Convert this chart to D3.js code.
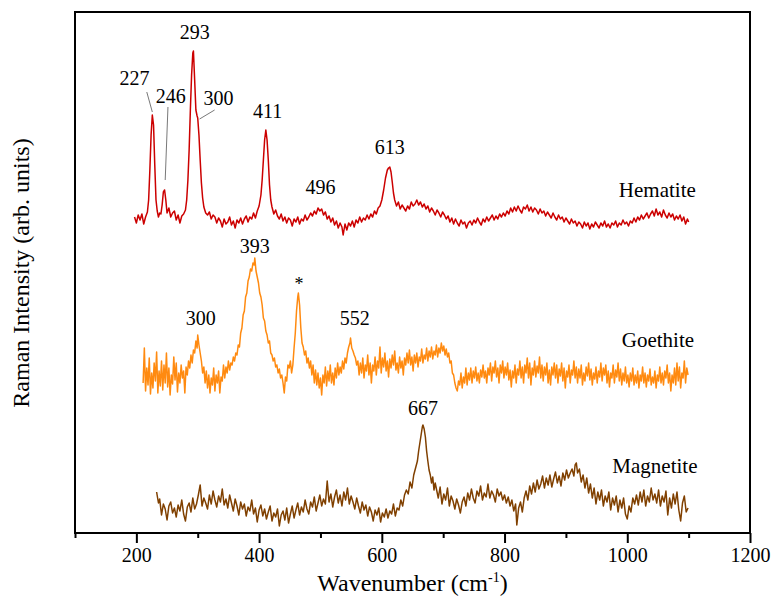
<!DOCTYPE html>
<html>
<head>
<meta charset="utf-8">
<script src="https://cdn.jsdelivr.net/npm/d3@7.9.0/dist/d3.min.js"></script>
<style>
  body { margin: 0; background: #fff; }
</style>
</head>
<body>
<svg id="chart" width="774" height="601"></svg>
<script>
// Raman spectra, [wavenumber (cm-1), intensity (arb. units, stacked offset included)]
const hematite = [[197,316],[200,310],[203,318],[206,313],[209,319],[212,309],[215,316],[218,321],[220,333],[222,363],[224,398],[226,418],[228,408],[230,368],[232,333],[234,322],[236,316],[238,320],[240,319],[242,328],[244,341],[246,343],[248,333],[250,320],[253,325],[256,316],[259,320],[262,322],[265,313],[268,318],[271,310],[274,317],[277,319],[280,323],[282,333],[284,353],[286,383],[288,423],[290,458],[292,480],[293,482],[295,453],[297,423],[299,417],[300,415],[302,398],[304,373],[306,350],[308,335],[310,326],[313,320],[316,318],[319,321],[322,314],[325,318],[328,316],[331,310],[334,315],[337,312],[340,306],[343,314],[346,309],[349,311],[352,316],[355,308],[358,312],[361,305],[364,313],[367,310],[370,315],[373,309],[376,314],[379,317],[382,311],[385,316],[388,314],[391,320],[394,315],[397,322],[400,327],[403,338],[405,353],[407,373],[409,393],[411,403],[413,393],[415,373],[417,348],[419,333],[421,326],[424,319],[427,323],[430,317],[433,314],[436,319],[439,312],[442,316],[445,310],[448,315],[451,313],[454,307],[457,314],[460,311],[463,316],[466,309],[469,314],[472,312],[475,318],[478,313],[481,316],[484,320],[487,317],[490,322],[493,319],[496,325],[499,322],[502,324],[505,318],[508,321],[511,314],[514,317],[517,311],[520,315],[523,308],[526,312],[529,305],[532,310],[535,306],[537,298],[540,309],[543,303],[546,310],[549,307],[552,312],[555,306],[558,313],[561,310],[564,316],[567,311],[570,315],[573,313],[576,318],[579,314],[582,319],[585,316],[588,322],[591,319],[594,325],[597,327],[600,333],[603,343],[606,355],[609,363],[611,365],[613,366],[615,361],[617,351],[619,340],[621,333],[624,327],[627,331],[630,324],[633,328],[636,325],[639,322],[642,327],[645,324],[648,331],[651,327],[654,329],[657,333],[660,328],[663,331],[666,326],[669,329],[672,324],[675,327],[678,321],[681,325],[684,322],[687,318],[690,323],[693,320],[696,316],[699,321],[702,318],[705,314],[708,317],[711,311],[714,315],[717,309],[720,314],[723,310],[726,307],[729,313],[732,309],[735,311],[738,305],[741,310],[744,312],[747,308],[750,313],[753,310],[756,315],[759,311],[762,308],[765,314],[768,311],[771,316],[774,312],[777,315],[780,318],[783,313],[786,317],[789,314],[792,319],[795,316],[798,320],[801,317],[804,322],[807,319],[810,325],[813,321],[816,326],[819,322],[822,327],[825,323],[828,320],[831,326],[834,324],[837,328],[840,322],[843,326],[846,321],[849,325],[852,323],[855,319],[858,324],[861,320],[864,322],[867,317],[870,321],[873,318],[876,315],[879,320],[882,316],[885,313],[888,318],[891,314],[894,316],[897,311],[900,315],[903,312],[906,309],[909,314],[912,310],[915,312],[918,307],[921,311],[924,309],[927,305],[930,311],[933,307],[936,310],[939,304],[942,309],[945,306],[948,311],[951,308],[954,305],[957,310],[960,307],[963,312],[966,306],[969,309],[972,305],[975,310],[978,308],[981,312],[984,306],[987,310],[990,308],[993,313],[996,309],[999,311],[1002,307],[1005,312],[1008,310],[1011,315],[1014,311],[1017,316],[1020,313],[1023,318],[1026,314],[1029,317],[1032,320],[1035,315],[1038,319],[1041,322],[1044,317],[1047,324],[1050,318],[1053,321],[1056,316],[1059,323],[1062,318],[1065,315],[1068,320],[1071,316],[1074,319],[1077,313],[1080,317],[1083,314],[1086,318],[1089,312],[1092,316],[1095,309],[1098,314],[1100,311]];

const goethite = [[211,150],[213,185],[215,142],[217,165],[219,148],[221,175],[223,139],[225,160],[227,145],[229,170],[231,152],[233,181],[235,140],[237,162],[239,147],[241,172],[243,143],[245,168],[247,150],[249,180],[251,146],[253,165],[255,138],[257,158],[259,149],[261,176],[263,153],[265,170],[267,141],[269,160],[271,150],[273,168],[275,155],[277,162],[279,140],[281,166],[283,158],[285,172],[287,165],[289,178],[291,170],[293,183],[295,180],[297,192],[299,185],[300,198],[302,188],[304,180],[306,172],[308,160],[310,166],[312,150],[314,162],[316,145],[318,158],[320,140],[322,155],[324,148],[326,165],[328,142],[330,158],[332,150],[334,162],[336,140],[338,156],[340,152],[342,168],[344,155],[346,166],[348,160],[350,172],[352,163],[354,170],[356,168],[358,176],[360,172],[362,180],[364,178],[366,188],[368,186],[370,200],[372,205],[374,218],[376,222],[378,236],[380,240],[382,252],[384,256],[386,264],[388,262],[390,270],[392,268],[393,275],[395,262],[397,256],[399,250],[401,240],[403,236],[405,228],[407,215],[409,212],[411,202],[413,198],[415,190],[417,192],[419,180],[421,178],[423,172],[425,175],[427,166],[429,168],[431,160],[433,164],[435,155],[437,158],[439,150],[441,140],[443,156],[445,152],[447,168],[449,165],[451,172],[453,160],[455,168],[457,185],[459,200],[461,222],[463,236],[464,240],[466,228],[468,205],[470,190],[472,186],[474,178],[476,182],[478,170],[480,175],[482,165],[484,172],[486,158],[488,168],[490,150],[492,163],[494,148],[496,160],[498,145],[500,155],[502,138],[504,158],[506,150],[508,166],[510,147],[512,162],[514,152],[516,168],[518,150],[520,160],[522,148],[524,165],[526,155],[528,170],[530,158],[532,166],[534,160],[536,172],[538,164],[540,175],[542,170],[544,180],[546,186],[548,190],[549,195],[551,185],[553,182],[555,178],[557,175],[559,168],[561,172],[563,158],[565,170],[567,160],[569,175],[571,155],[573,168],[575,162],[577,178],[579,158],[581,170],[583,150],[585,168],[587,162],[589,176],[591,158],[593,172],[595,165],[597,186],[599,160],[601,175],[603,166],[605,180],[607,162],[609,172],[611,156],[613,174],[615,165],[617,178],[619,168],[621,182],[623,163],[625,170],[627,160],[629,176],[631,165],[633,172],[635,158],[637,175],[639,168],[641,180],[643,170],[645,183],[647,168],[649,176],[651,162],[653,178],[655,170],[657,180],[659,166],[661,176],[663,172],[665,184],[667,170],[669,178],[671,174],[673,185],[675,172],[677,182],[679,176],[681,186],[683,174],[685,182],[687,178],[689,188],[691,176],[693,185],[695,180],[697,190],[699,182],[701,187],[703,178],[705,184],[707,176],[709,180],[711,170],[713,172],[715,160],[717,158],[719,150],[721,145],[723,142],[725,152],[727,148],[729,160],[731,145],[733,156],[735,150],[737,165],[739,148],[741,160],[743,153],[745,165],[747,150],[749,162],[751,155],[753,166],[755,152],[757,160],[759,150],[761,163],[763,156],[765,168],[767,155],[769,162],[771,150],[773,165],[775,158],[777,170],[779,152],[781,166],[783,160],[785,172],[787,156],[789,165],[791,150],[793,168],[795,160],[797,172],[799,155],[801,166],[803,158],[805,170],[807,153],[809,163],[811,146],[813,162],[815,155],[817,168],[819,150],[821,164],[823,158],[825,172],[827,155],[829,166],[831,150],[833,168],[835,160],[837,175],[839,155],[841,170],[843,148],[845,165],[847,158],[849,172],[851,156],[853,167],[855,160],[857,176],[859,155],[861,168],[863,152],[865,166],[867,158],[869,170],[871,150],[873,163],[875,148],[877,166],[879,158],[881,170],[883,155],[885,168],[887,150],[889,164],[891,157],[893,170],[895,152],[897,165],[899,145],[901,162],[903,156],[905,168],[907,150],[909,163],[911,158],[913,172],[915,155],[917,166],[919,150],[921,164],[923,155],[925,168],[927,148],[929,160],[931,152],[933,166],[935,157],[937,170],[939,153],[941,164],[943,148],[945,160],[947,154],[949,166],[951,150],[953,162],[955,156],[957,170],[959,152],[961,165],[963,158],[965,168],[967,150],[969,162],[971,146],[973,160],[975,155],[977,168],[979,150],[981,163],[983,156],[985,170],[987,152],[989,164],[991,148],[993,160],[995,152],[997,166],[999,150],[1001,158],[1003,146],[1005,160],[1007,152],[1009,165],[1011,148],[1013,158],[1015,150],[1017,162],[1019,145],[1021,158],[1023,152],[1025,166],[1027,150],[1029,160],[1031,146],[1033,158],[1035,152],[1037,164],[1039,148],[1041,156],[1043,150],[1045,162],[1047,145],[1049,158],[1051,152],[1053,166],[1055,150],[1057,160],[1059,148],[1061,162],[1063,155],[1065,168],[1067,150],[1069,160],[1071,142],[1073,158],[1075,150],[1077,165],[1079,148],[1081,170],[1083,152],[1085,166],[1087,145],[1089,160],[1091,155],[1093,172],[1095,150],[1097,165],[1099,158]];

const magnetite = [[233,41],[236,30],[238,34],[241,18],[244,29],[247,24],[250,13],[253,27],[256,31],[259,20],[262,25],[265,16],[268,28],[271,22],[274,33],[277,19],[280,12],[283,26],[286,30],[289,21],[292,35],[295,24],[298,29],[301,38],[304,48],[307,27],[310,35],[313,30],[316,24],[319,38],[322,29],[325,42],[328,33],[331,26],[334,37],[337,31],[340,44],[343,28],[346,34],[349,25],[352,38],[355,30],[358,22],[361,34],[364,27],[367,18],[370,31],[373,24],[376,29],[379,17],[382,26],[385,22],[388,33],[391,19],[394,25],[397,11],[400,23],[403,28],[406,17],[409,24],[412,14],[415,21],[418,27],[421,12],[424,20],[427,16],[430,24],[433,7],[436,18],[439,22],[442,13],[445,25],[448,10],[451,19],[454,27],[457,15],[460,23],[463,30],[466,18],[469,26],[472,21],[475,33],[478,24],[481,19],[484,31],[487,26],[490,36],[493,22],[496,30],[499,38],[502,27],[505,34],[508,29],[511,52],[514,31],[517,39],[520,26],[523,36],[526,43],[529,30],[532,38],[535,27],[538,41],[541,33],[544,45],[547,29],[550,37],[553,31],[556,24],[559,35],[562,27],[565,20],[568,31],[571,23],[574,28],[577,17],[580,26],[583,21],[586,12],[589,23],[592,18],[595,25],[598,11],[601,20],[604,16],[607,24],[610,15],[613,22],[616,19],[619,29],[622,17],[625,25],[628,23],[631,33],[634,27],[637,38],[640,43],[643,39],[646,51],[649,45],[652,58],[655,65],[658,72],[660,82],[662,90],[664,98],[666,106],[667,108],[669,104],[671,96],[673,82],[675,72],[677,63],[679,58],[681,50],[683,56],[685,43],[687,50],[689,44],[692,35],[695,46],[698,29],[701,39],[704,33],[707,45],[710,27],[713,37],[716,32],[719,24],[722,34],[725,28],[728,20],[731,31],[734,36],[737,27],[740,40],[743,33],[746,44],[749,35],[752,30],[755,42],[758,37],[761,47],[764,33],[767,40],[770,36],[773,49],[776,35],[779,42],[782,38],[785,31],[788,44],[791,37],[794,41],[797,33],[800,38],[803,30],[806,36],[809,27],[812,33],[815,22],[818,29],[820,8],[823,25],[826,31],[829,21],[832,35],[835,42],[838,33],[841,47],[844,39],[847,50],[850,41],[853,53],[856,44],[859,49],[862,57],[865,45],[868,55],[871,48],[874,58],[877,46],[880,54],[883,61],[886,50],[889,57],[892,47],[895,60],[898,53],[901,63],[904,55],[907,60],[910,64],[913,57],[915,68],[917,70],[919,60],[922,64],[925,51],[928,58],[931,45],[934,55],[937,40],[940,49],[943,35],[946,45],[949,29],[952,41],[955,33],[958,43],[961,27],[964,37],[967,31],[970,41],[973,23],[976,35],[979,28],[982,37],[985,21],[988,33],[991,25],[994,35],[997,19],[1000,14],[1003,27],[1006,21],[1009,35],[1012,29],[1015,38],[1018,28],[1021,41],[1024,31],[1027,43],[1030,27],[1033,37],[1036,31],[1039,45],[1042,33],[1045,39],[1048,30],[1051,43],[1054,27],[1057,37],[1060,31],[1063,42],[1066,18],[1069,35],[1072,25],[1075,39],[1078,29],[1081,41],[1084,23],[1087,12],[1090,30],[1093,37],[1096,21],[1099,25]];

// peak labels: [text, wavenumber, intensity]
const peakLabels = [
  ['227', 197, 448], ['246', 256, 430], ['293', 295, 494], ['300', 334, 428],
  ['411', 414, 415], ['496', 500, 339], ['613', 613, 379],
  ['300', 305, 208], ['393', 393, 280], ['552', 556, 208],
  ['667', 667, 118]
];
const starLabel = ['*', 465, 243];
// leader lines: [w1, i1, w2, i2]
const leaders = [[217, 441, 226, 421], [251.5, 426, 247, 353], [327.5, 423, 303, 414]];
// sample names: [text, wavenumber, intensity]
const names = [['Hematite', 1049, 336], ['Goethite', 1050, 186], ['Magnetite', 1045, 60]];

const majorTicks = [200, 400, 600, 800, 1000, 1200];
const minorTicks = [100, 300, 500, 700, 900, 1100];

const FONT = '"Liberation Serif", "Times New Roman", "DejaVu Serif", serif';

const svg = d3.select('#chart').attr('font-family', FONT);
const x = d3.scaleLinear().domain([100, 1200]).range([75, 750]);
const y = d3.scaleLinear().domain([0, 521]).range([533, 12]);

const line = d3.line().x(d => x(d[0])).y(d => y(d[1]));

// spectra
const series = [
  { data: hematite, color: '#cc0000' },
  { data: goethite, color: '#ff8a10' },
  { data: magnetite, color: '#804000' }
];
svg.selectAll('path.spec')
  .data(series)
  .join('path')
  .attr('class', 'spec')
  .attr('d', d => line(d.data))
  .attr('fill', 'none')
  .attr('stroke', d => d.color)
  .attr('stroke-width', 1.5)
  .attr('stroke-linejoin', 'round');

// x axis (major + minor ticks, pointing outward)
const gx = svg.append('g').attr('transform', `translate(0,${y(0)})`);
gx.call(d3.axisBottom(x).tickValues(majorTicks).tickSize(10).tickPadding(5).tickFormat(d3.format('d')));
gx.attr('font-family', FONT).attr('font-size', 20);
gx.selectAll('.tick line').attr('stroke-width', 2);
gx.selectAll('text').attr('fill', '#000');
gx.select('.domain').remove();

const gm = svg.append('g').attr('transform', `translate(0,${y(0)})`);
gm.call(d3.axisBottom(x).tickValues(minorTicks).tickSize(5).tickFormat(''));
gm.selectAll('.tick line').attr('stroke-width', 2);
gm.select('.domain').remove();

// frame
svg.append('rect')
  .attr('x', x(100)).attr('y', y(521))
  .attr('width', x(1200) - x(100)).attr('height', y(0) - y(521))
  .attr('fill', 'none').attr('stroke', '#000').attr('stroke-width', 2);

// leader lines
svg.selectAll('line.leader')
  .data(leaders)
  .join('line')
  .attr('x1', d => x(d[0])).attr('y1', d => y(d[1]))
  .attr('x2', d => x(d[2])).attr('y2', d => y(d[3]))
  .attr('stroke', '#555').attr('stroke-width', 0.8);

// peak labels
svg.selectAll('text.peak')
  .data(peakLabels)
  .join('text')
  .attr('class', 'peak')
  .attr('x', d => x(d[1])).attr('y', d => y(d[2]))
  .attr('text-anchor', 'middle')
  .attr('font-size', 20)
  .text(d => d[0]);

svg.append('text')
  .attr('x', x(starLabel[1])).attr('y', y(starLabel[2]))
  .attr('text-anchor', 'middle').attr('font-size', 18)
  .text(starLabel[0]);

svg.selectAll('text.name')
  .data(names)
  .join('text')
  .attr('class', 'name')
  .attr('x', d => x(d[1])).attr('y', d => y(d[2]))
  .attr('text-anchor', 'middle')
  .attr('font-size', 21)
  .text(d => d[0]);

// axis titles
const xt = svg.append('text')
  .attr('x', (x(100) + x(1200)) / 2).attr('y', 591)
  .attr('text-anchor', 'middle').attr('font-size', 24);
xt.append('tspan').text('Wavenumber (cm');
xt.append('tspan').attr('dy', -9).attr('font-size', 14).text('-1');
xt.append('tspan').attr('dy', 9).text(')');

svg.append('text')
  .attr('transform', 'translate(29,273) rotate(-90)')
  .attr('text-anchor', 'middle').attr('font-size', 24)
  .text('Raman Intensity (arb. units)');
</script>
</body>
</html>
